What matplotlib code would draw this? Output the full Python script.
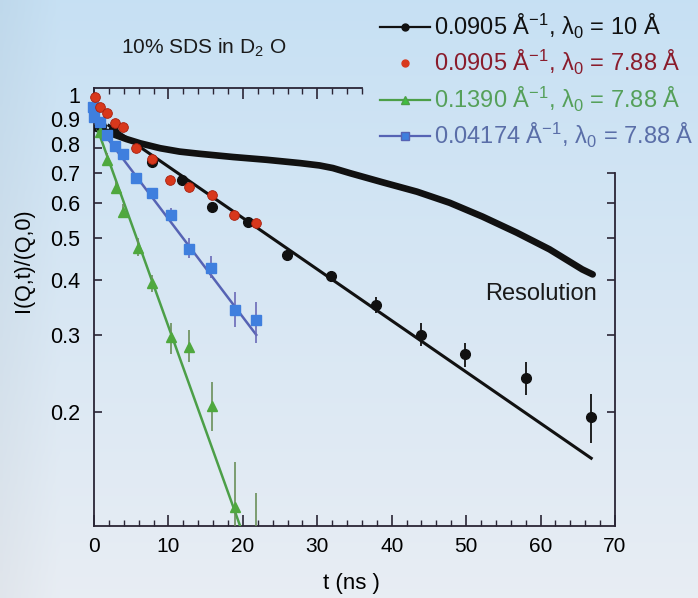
import numpy as np
import matplotlib
matplotlib.use("Agg")
import matplotlib.pyplot as plt
from matplotlib.lines import Line2D
import matplotlib.transforms as mtransforms

plt.rcParams['font.family'] = ['Liberation Sans', 'DejaVu Sans']
plt.rcParams['mathtext.default'] = 'regular'

# ---------------- data ----------------
# resolution curve
res_t = [0.1, 2.15, 4.4, 6.2, 8.9, 11.5, 14.2, 18.7, 23.2, 27.7, 30.3, 32.1, 34.4,
         38.8, 43.4, 47.8, 52.2, 56.8, 61.2, 65.6, 67.0]
res_y = [0.888, 0.865, 0.838, 0.820, 0.799, 0.785, 0.776, 0.763, 0.752, 0.739, 0.730, 0.720, 0.701,
         0.668, 0.636, 0.600, 0.558, 0.513, 0.470, 0.423, 0.412]

# 0.0905 A^-1, lambda0 = 10 A (black)
blk_t = [1.0, 2.5, 7.8, 11.8, 15.8, 20.7, 25.9, 31.9, 37.9, 43.9, 49.9, 58.0, 66.8]
blk_y = [0.900, 0.875, 0.744, 0.677, 0.588, 0.543, 0.457, 0.408, 0.350, 0.299, 0.271, 0.239, 0.195]
blk_lo = [0.890, 0.865, 0.734, 0.667, 0.578, 0.533, 0.445, 0.396, 0.336, 0.283, 0.253, 0.219, 0.170]
blk_hi = [0.910, 0.885, 0.754, 0.687, 0.598, 0.553, 0.469, 0.420, 0.365, 0.319, 0.288, 0.260, 0.220]
blk_fit_t = [2.0, 66.8]
blk_fit_y = [0.900, 0.157]

# 0.0905 A^-1, lambda0 = 7.88 A (red)
red_t = [0.1, 0.8, 1.7, 2.8, 3.9, 5.7, 7.8, 10.2, 12.7, 15.8, 18.8, 21.8]
red_y = [1.045, 0.992, 0.961, 0.912, 0.894, 0.800, 0.756, 0.677, 0.653, 0.626, 0.564, 0.540]

# 0.1390 A^-1, lambda0 = 7.88 A (green)
grn_t = [0.8, 1.7, 2.9, 3.9, 5.9, 7.8, 10.3, 12.8, 15.8, 18.9, 21.8]
grn_y = [0.870, 0.752, 0.649, 0.573, 0.474, 0.393, 0.296, 0.281, 0.206, 0.1217, 0.090]
grn_lo = [0.855, 0.730, 0.630, 0.555, 0.455, 0.375, 0.271, 0.260, 0.181, 0.090, 0.060]
grn_hi = [0.885, 0.780, 0.670, 0.595, 0.500, 0.410, 0.320, 0.307, 0.234, 0.154, 0.131]
grn_fit_t = [0.5, 21.0]
grn_fit_y = [0.880, 0.0948]

# 0.04174 A^-1, lambda0 = 7.88 A (blue)
blu_t = [-0.2, 0.0, 0.8, 1.8, 2.8, 3.9, 5.7, 7.8, 10.3, 12.8, 15.7, 18.9, 21.8]
blu_y = [0.990, 0.942, 0.917, 0.857, 0.809, 0.776, 0.684, 0.632, 0.564, 0.472, 0.427, 0.341, 0.324]
blu_lo = [0.980, 0.932, 0.905, 0.845, 0.797, 0.764, 0.670, 0.615, 0.545, 0.450, 0.405, 0.312, 0.288]
blu_hi = [1.000, 0.952, 0.929, 0.869, 0.821, 0.788, 0.698, 0.650, 0.585, 0.500, 0.455, 0.376, 0.357]
blu_fit_t = [0.5, 21.8]
blu_fit_y = [0.900, 0.300]

yticks = [0.2, 0.3, 0.4, 0.5, 0.6, 0.7, 0.8, 0.9, 1.0]
ytick_labels = ['0.2', '0.3', '0.4', '0.5', '0.6', '0.7', '0.8', '0.9', '1']
xticks = [0, 10, 20, 30, 40, 50, 60, 70]

legend_labels = [r'0.0905 Å$^{-1}$, λ$_0$ = 10 Å',
                 r'0.0905 Å$^{-1}$, λ$_0$ = 7.88 Å',
                 r'0.1390 Å$^{-1}$, λ$_0$ = 7.88 Å',
                 r'0.04174 Å$^{-1}$, λ$_0$ = 7.88 Å']

# ---------------- colours ----------------
c_black = '#111111'
c_red = '#d8381c'
c_red_edge = '#a8200e'
c_green = '#4fa83e'
c_green_line = '#4c9f48'
c_blue = '#3f7fde'
c_blue_line = '#5663b4'
txt_cols = ['#111111', '#8a1c2c', '#55a05a', '#5a6ea8']


def yerr(y, lo, hi):
    y = np.asarray(y); lo = np.asarray(lo); hi = np.asarray(hi)
    return np.vstack([y - lo, hi - y])


fig = plt.figure(figsize=(6.98, 5.98), dpi=100)

# background gradient
bg = fig.add_axes([0, 0, 1, 1], zorder=-10)
top = np.array([0.78, 0.88, 0.955])
bot = np.array([0.91, 0.93, 0.955])
v = np.linspace(0, 1, 200)[:, None]
h = np.linspace(0, 1, 200)[None, :]
img = top[None, None, :] * (1 - v[..., None]) + bot[None, None, :] * v[..., None]
img = img - 0.03 * np.clip(1 - h * 12, 0, 1)[..., None]
bg.imshow(np.clip(img, 0, 1), aspect='auto', extent=[0, 1, 0, 1], origin='upper')
bg.axis('off')

ax = fig.add_axes([0.1347, 0.1204, 0.8811 - 0.1347, 0.8528 - 0.1204])
ax.set_facecolor('none')
ax.set_yscale('log')
ax.set_xlim(0, 70)
ax.set_ylim(0.110, 1.096)

# resolution
ax.plot(res_t, res_y, color=c_black, lw=4.8, solid_capstyle='round',
        solid_joinstyle='round', zorder=3)

# fits
ax.plot(blk_fit_t, blk_fit_y, color=c_black, lw=2.2, zorder=3)
ax.plot(grn_fit_t, grn_fit_y, color=c_green_line, lw=1.8, zorder=3)
ax.plot(blu_fit_t, blu_fit_y, color=c_blue_line, lw=1.8, zorder=3)

# data
ax.errorbar(blk_t, blk_y, yerr=yerr(blk_y, blk_lo, blk_hi), fmt='o', ms=7,
            color=c_black, ecolor=c_black, elinewidth=1.3, capsize=0, zorder=5)
ax.plot(red_t, red_y, 'o', ms=7, color=c_red, mec=c_red_edge, mew=0.6, zorder=6, clip_on=False)
ax.errorbar(grn_t, grn_y, yerr=yerr(grn_y, grn_lo, grn_hi), fmt='^', ms=7,
            color=c_green, ecolor='#6a8f5a', elinewidth=1.2, capsize=0, zorder=5)
ax.errorbar(blu_t, blu_y, yerr=yerr(blu_y, blu_lo, blu_hi), fmt='s', ms=7,
            color=c_blue, ecolor='#6a6ab8', elinewidth=1.2, capsize=0, zorder=5,
            clip_on=False)

# spines
for s in ['left', 'bottom', 'top', 'right']:
    ax.spines[s].set_color('#2a2535')
    ax.spines[s].set_linewidth(1.3)
ax.spines['top'].set_bounds(0, 36)
ax.spines['right'].set_bounds(0.110, 0.70)

ax.set_xticks(xticks)
ax.set_xticks(np.arange(0, 70, 2), minor=True)
ax.set_yticks(yticks)
ax.set_yticklabels(ytick_labels)
ax.yaxis.set_minor_locator(matplotlib.ticker.NullLocator())
ax.tick_params(axis='both', which='both', direction='in', top=False, right=False,
               color='#2a2535')
ax.tick_params(axis='x', which='major', length=8, width=1.2, labelsize=15, pad=8)
ax.tick_params(axis='x', which='minor', length=4, width=1.0)
ax.tick_params(axis='y', which='major', length=6, width=1.2, labelsize=15.5, pad=10)

# top ticks only along the drawn part of the spine
sx = ax.secondary_xaxis('top')
sx.set_xticks([0, 10, 20, 30])
sx.set_xticks(np.arange(0, 37, 2), minor=True)
sx.tick_params(axis='x', which='both', direction='in', labeltop=False, color='#2a2535')
sx.tick_params(axis='x', which='major', length=8, width=1.2)
sx.tick_params(axis='x', which='minor', length=4, width=1.0)
sx.spines[:].set_visible(False)

sy = ax.secondary_yaxis('right')
sy.set_yticks([0.2, 0.3, 0.4, 0.5, 0.6, 0.7])
sy.yaxis.set_minor_locator(matplotlib.ticker.NullLocator())
sy.tick_params(axis='y', which='both', direction='in', labelright=False, length=6,
               width=1.2, color='#2a2535')
sy.spines[:].set_visible(False)

ax.set_xlabel('t (ns )', fontsize=16)
ax.set_ylabel('I(Q,t)/(Q,0)', fontsize=15.5)
ax.yaxis.set_label_coords(-0.115, 0.607)
ax.xaxis.set_label_coords(0.495, -0.108)

fig.text(204 / 698, 1 - 48 / 598, r'10% SDS in D$_2$ O', fontsize=15,
         ha='center', va='center', color='#1a1a1a')
ax.text(60.1, 0.361, 'Resolution', fontsize=17, ha='center', va='baseline', color='#1a1a1a')

# legend
handles = [
    Line2D([], [], color=c_black, lw=1.6, marker='o', ms=5),
    Line2D([], [], color=c_red, lw=0, marker='o', ms=5),
    Line2D([], [], color=c_green_line, lw=1.6, marker='^', ms=6, mfc='#3fbf3f'),
    Line2D([], [], color=c_blue_line, lw=1.6, marker='s', ms=6, mfc=c_blue),
]
leg = fig.legend(handles, legend_labels, loc='upper left', bbox_to_anchor=(0.531, 0.996),
                 frameon=False, fontsize=17, handlelength=2.1, handletextpad=0.2,
                 labelspacing=0.31, borderaxespad=0.0, labelcolor=txt_cols)

# nudge the crowded upper y labels upward like in the reference
shifts = {'1': 10, '0.9': 7, '0.8': 4}
for lab in ax.get_yticklabels():
    t = lab.get_text()
    if t in shifts:
        off = mtransforms.ScaledTranslation(0, shifts[t] / 100.0, fig.dpi_scale_trans)
        lab.set_transform(lab.get_transform() + off)

fig.savefig('out.png', dpi=100)
